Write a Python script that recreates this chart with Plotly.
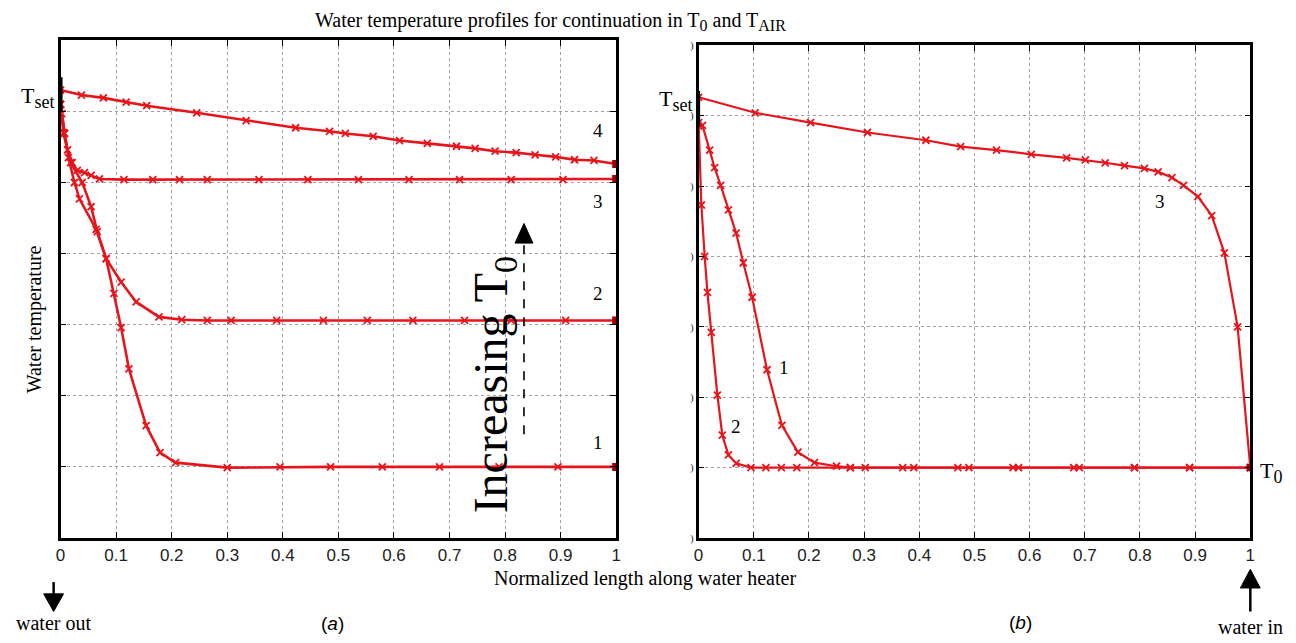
import plotly.graph_objects as go

W, H = 1296, 643

# ---------------- data ----------------
# panel (a): left
xa_1 = [0, 0.005, 0.018, 0.039, 0.055, 0.066, 0.082, 0.096, 0.109, 0.123, 0.154, 0.179, 0.207, 0.30, 0.395, 0.486, 0.579, 0.682, 0.789, 0.895, 1.0]
ya_1 = [6.1, 5.7, 5.28, 5.0, 4.66, 4.31, 3.93, 3.44, 2.96, 2.38, 1.58, 1.2, 1.06, 0.99, 1.0, 1.0, 1.0, 1.0, 1.0, 1.0, 1.0]

xa_2 = [0, 0.007, 0.014, 0.025, 0.034, 0.064, 0.082, 0.109, 0.136, 0.177, 0.218, 0.264, 0.307, 0.389, 0.473, 0.552, 0.634, 0.727, 0.811, 0.909, 1.0]
ya_2 = [6.1, 5.69, 5.35, 5.0, 4.77, 4.34, 3.93, 3.6, 3.32, 3.11, 3.07, 3.06, 3.06, 3.06, 3.06, 3.06, 3.06, 3.06, 3.06, 3.06, 3.06]

xa_3 = [0, 0.002, 0.007, 0.0125, 0.021, 0.03, 0.043, 0.055, 0.07, 0.114, 0.166, 0.214, 0.264, 0.357, 0.445, 0.536, 0.627, 0.718, 0.811, 0.904, 1.0]
ya_3 = [6.1, 5.97, 5.69, 5.46, 5.28, 5.17, 5.14, 5.1, 5.05, 5.04, 5.04, 5.04, 5.04, 5.04, 5.04, 5.04, 5.04, 5.04, 5.04, 5.04, 5.05]

xa_4 = [0, 0.0375, 0.077, 0.118, 0.155, 0.245, 0.334, 0.423, 0.484, 0.5125, 0.5625, 0.61, 0.66, 0.7125, 0.746, 0.782, 0.82, 0.854, 0.891, 0.925, 0.96, 1.0]
ya_4 = [6.3, 6.23, 6.19, 6.13, 6.08, 5.98, 5.87, 5.77, 5.72, 5.69, 5.65, 5.59, 5.55, 5.51, 5.48, 5.44, 5.42, 5.39, 5.36, 5.32, 5.31, 5.26]

tset_bar_a = [6.0, 6.48]

# panel (b): right
xb_1 = [0.0, 0.007, 0.02, 0.029, 0.04, 0.054, 0.068, 0.081, 0.097, 0.124, 0.151, 0.18, 0.21, 0.25, 0.275, 0.302, 0.39, 0.49, 0.58, 0.69, 0.79, 0.89, 1.0]
yb_1 = [5.85, 5.86, 5.51, 5.26, 5.01, 4.66, 4.33, 3.91, 3.42, 2.39, 1.6, 1.22, 1.07, 1.02, 1.0, 1.0, 1.0, 1.0, 1.0, 1.0, 1.0, 1.0, 1.0]

xb_2 = [0.0, 0.005, 0.011, 0.016, 0.023, 0.034, 0.043, 0.054, 0.068, 0.095, 0.122, 0.15, 0.178, 0.275, 0.37, 0.47, 0.57, 0.68, 0.79, 0.89, 1.0]
yb_2 = [5.9, 4.73, 4.0, 3.49, 2.92, 2.03, 1.46, 1.18, 1.06, 1.0, 1.0, 1.0, 1.0, 1.0, 1.0, 1.0, 1.0, 1.0, 1.0, 1.0, 1.0]

xb_3 = [0, 0.1025, 0.203, 0.306, 0.412, 0.475, 0.54, 0.603, 0.667, 0.701, 0.737, 0.772, 0.808, 0.833, 0.858, 0.879, 0.905, 0.93, 0.953, 0.977, 1.0]
yb_3 = [6.26, 6.04, 5.9, 5.76, 5.65, 5.56, 5.51, 5.45, 5.4, 5.37, 5.33, 5.29, 5.25, 5.2, 5.12, 5.01, 4.85, 4.58, 4.05, 3.0, 1.0]

tset_bar_b = [5.85, 6.35]

x_ticks = [0, 0.1, 0.2, 0.3, 0.4, 0.5, 0.6, 0.7, 0.8, 0.9, 1]
x_ticktext = ["0", "0.1", "0.2", "0.3", "0.4", "0.5", "0.6", "0.7", "0.8", "0.9", "1"]
y_grid = [0, 1, 2, 3, 4, 5, 6, 7]

RED = "#e8141c"
DARK = "#a00000"
SERIF = "Liberation Serif"
SANS = "Liberation Sans"


def px(x):
    return x / W


def py(y):
    return 1 - y / H


def sub(t, size):
    return f"<sub><span style='font-size:{size}px'>{t}</span></sub>"


fig = go.Figure()

marker = dict(symbol="x-thin", size=7, line=dict(width=1.8, color=RED), color=RED)

for xs, ys in [(xa_1, ya_1), (xa_2, ya_2), (xa_3, ya_3), (xa_4, ya_4)]:
    fig.add_trace(go.Scatter(x=xs, y=ys, mode="lines+markers", line=dict(color=RED, width=2.6),
                             marker=marker, xaxis="x", yaxis="y", showlegend=False))
fig.add_trace(go.Scatter(x=[xa_1[-1], xa_2[-1], xa_3[-1], xa_4[-1]], y=[ya_1[-1], ya_2[-1], ya_3[-1], ya_4[-1]],
                         mode="markers", marker=dict(symbol="square", size=8, color=DARK),
                         xaxis="x", yaxis="y", showlegend=False))
fig.add_trace(go.Scatter(x=[0, 0], y=tset_bar_a, mode="lines", line=dict(color="black", width=4),
                         xaxis="x", yaxis="y", showlegend=False))

for xs, ys in [(xb_1, yb_1), (xb_2, yb_2), (xb_3, yb_3)]:
    fig.add_trace(go.Scatter(x=xs, y=ys, mode="lines+markers", line=dict(color=RED, width=2.2),
                             marker=marker, xaxis="x2", yaxis="y2", showlegend=False))
fig.add_trace(go.Scatter(x=[xb_1[-1]], y=[yb_1[-1]], mode="markers",
                         marker=dict(symbol="circle", size=8, color=DARK),
                         xaxis="x2", yaxis="y2", showlegend=False))
fig.add_trace(go.Scatter(x=[0, 0], y=tset_bar_b, mode="lines", line=dict(color="black", width=3),
                         xaxis="x2", yaxis="y2", showlegend=False))

common_x = dict(range=[0, 1], tickvals=x_ticks, ticktext=x_ticktext, ticks="inside", ticklen=6,
                tickcolor="black", showline=True, linecolor="black", linewidth=2.5, mirror="ticks",
                showgrid=True, gridcolor="#a0a0a0", griddash="dot", gridwidth=1, zeroline=False,
                tickfont=dict(family=SANS, size=17, color="#222"))
common_y = dict(range=[0, 7], tickvals=y_grid, ticks="inside", ticklen=6, tickcolor="black",
                showline=True, linecolor="black", linewidth=2.5, mirror="ticks",
                showgrid=True, gridcolor="#a0a0a0", griddash="dot", gridwidth=1, zeroline=False)

fig.update_layout(
    width=W, height=H, margin=dict(l=0, r=0, t=0, b=0),
    paper_bgcolor="white", plot_bgcolor="white",
    xaxis=dict(domain=[px(56), px(616)], anchor="y", **common_x),
    yaxis=dict(domain=[py(543), py(35)], anchor="x", showticklabels=False, **common_y),
    xaxis2=dict(domain=[px(699), px(1255)], anchor="y2", **common_x),
    yaxis2=dict(domain=[py(543), py(40)], anchor="x2", ticktext=[")"] * len(y_grid),
                tickfont=dict(family=SERIF, size=11, color="#333"), **common_y),
)

ann = []


def A(text, x, y, size=20, family=SERIF, angle=0, color="black"):
    ann.append(dict(text=text, x=px(x), y=py(y), xref="paper", yref="paper", showarrow=False,
                    font=dict(family=family, size=size, color=color), textangle=angle,
                    xanchor="center", yanchor="middle"))


A("Water temperature profiles for continuation in T" + sub("0", 16) + " and T" + sub("AIR", 16), 550, 16, size=20)
A("Normalized length along water heater", 645, 584, size=20)
A("Water temperature", 30, 320, size=20, angle=-90)
A("T" + sub("set", 18), 33, 93, size=22)
A("T" + sub("set", 18), 676, 96, size=22)
A("4", 598, 127, size=19)
A("3", 598, 200, size=19)
A("2", 598, 293, size=19)
A("1", 598, 446, size=19)
A("3", 1164, 200, size=19)
A("1", 785, 369, size=19)
A("2", 737, 429, size=19)
A("T" + sub("0", 18), 1276, 476, size=22)
A("Increasing T" + sub("0", 34), 493, 387, size=48, angle=-90)
A("water out", 49, 630, size=20)
A("water in", 1255, 634, size=20)
A("(<i>a</i>)", 330, 630, size=19, family=SANS)
A("(<i>b</i>)", 1023, 629, size=19, family=SANS)

shapes = []


def line(x0, y0, x1, y1, width=2, dash=None):
    shapes.append(dict(type="line", xref="paper", yref="paper", x0=px(x0), y0=py(y0), x1=px(x1), y1=py(y1),
                       line=dict(color="black", width=width, dash=dash)))


def tri(xt, yt, half, length, up=True):
    yb = yt + length if up else yt - length
    path = f"M {px(xt)} {py(yt)} L {px(xt - half)} {py(yb)} L {px(xt + half)} {py(yb)} Z"
    shapes.append(dict(type="path", xref="paper", yref="paper", path=path,
                       fillcolor="black", line=dict(color="black", width=1)))


# dashed "increasing" arrow
line(523, 437, 523, 240, width=1.6, dash="dash")
tri(523, 222, 9, 20, up=True)
# water out arrow (down)
line(49, 588, 49, 602, width=2.5)
tri(49, 618, 10, 18, up=False)
# water in arrow (up)
line(1255, 618, 1255, 592, width=2.5)
tri(1255, 575, 10, 19, up=True)

fig.update_layout(annotations=ann, shapes=shapes)
fig.write_html("out.html")
